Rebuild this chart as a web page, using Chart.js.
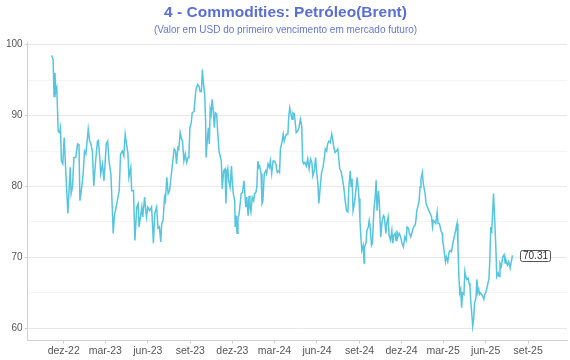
<!doctype html>
<html lang="pt-BR">
<head>
<meta charset="utf-8">
<title>Commodities: Petróleo (Brent)</title>
<style>
  html, body { margin: 0; padding: 0; background: #fff; }
  #grafico { display: block; }
</style>
</head>
<body>
<canvas id="grafico" width="570" height="360"></canvas>

<script src="https://cdn.jsdelivr.net/npm/chart.js"></script>
<script>
// datas das leituras (uma linha por mês)
const datas = [
  '2022-11-05','2022-11-08','2022-11-10','2022-11-12','2022-11-14','2022-11-16','2022-11-19','2022-11-22','2022-11-24','2022-11-26','2022-11-29',
  '2022-12-02','2022-12-05','2022-12-10','2022-12-15','2022-12-17','2022-12-20','2022-12-23','2022-12-27','2022-12-31',
  '2023-01-03','2023-01-05','2023-01-09','2023-01-12','2023-01-15','2023-01-18','2023-01-20','2023-01-23','2023-01-26','2023-01-28',
  '2023-02-01','2023-02-04','2023-02-08','2023-02-12','2023-02-14','2023-02-17','2023-02-19','2023-02-23','2023-02-26','2023-02-28',
  '2023-03-03','2023-03-06','2023-03-09','2023-03-13','2023-03-16','2023-03-18','2023-03-21','2023-03-23','2023-03-27','2023-03-31',
  '2023-04-03','2023-04-07','2023-04-10','2023-04-13','2023-04-16','2023-04-19','2023-04-21','2023-04-25','2023-04-27',
  '2023-05-01','2023-05-04','2023-05-08','2023-05-11','2023-05-13','2023-05-16','2023-05-19','2023-05-21','2023-05-25','2023-05-27','2023-05-29',
  '2023-06-01','2023-06-05','2023-06-09','2023-06-11','2023-06-13','2023-06-16','2023-06-20','2023-06-23','2023-06-26','2023-06-29',
  '2023-07-01','2023-07-04','2023-07-07','2023-07-09','2023-07-12','2023-07-15','2023-07-18','2023-07-22','2023-07-25','2023-07-28','2023-07-31',
  '2023-08-02','2023-08-05','2023-08-07','2023-08-10','2023-08-13','2023-08-15','2023-08-18','2023-08-21','2023-08-24','2023-08-27','2023-08-29','2023-08-31',
  '2023-09-03','2023-09-05','2023-09-09','2023-09-12','2023-09-14','2023-09-17','2023-09-20','2023-09-22','2023-09-25','2023-09-27','2023-09-29',
  '2023-10-02','2023-10-04','2023-10-05','2023-10-08','2023-10-10','2023-10-12','2023-10-14','2023-10-16','2023-10-18','2023-10-20','2023-10-23','2023-10-25','2023-10-28','2023-10-30',
  '2023-11-02','2023-11-04','2023-11-07','2023-11-09','2023-11-12','2023-11-15','2023-11-17','2023-11-19','2023-11-21','2023-11-23','2023-11-26','2023-11-29',
  '2023-12-01','2023-12-03','2023-12-06','2023-12-07','2023-12-09','2023-12-11','2023-12-13','2023-12-15','2023-12-17','2023-12-20','2023-12-23','2023-12-26','2023-12-28','2023-12-30',
  '2024-01-01','2024-01-04','2024-01-06','2024-01-08','2024-01-10','2024-01-13','2024-01-16','2024-01-18','2024-01-21','2024-01-23','2024-01-25','2024-01-27','2024-01-29',
  '2024-02-01','2024-02-03','2024-02-05','2024-02-08','2024-02-11','2024-02-13','2024-02-16','2024-02-19','2024-02-21','2024-02-24','2024-02-27',
  '2024-03-01','2024-03-04','2024-03-07','2024-03-10','2024-03-12','2024-03-14','2024-03-17','2024-03-20','2024-03-22','2024-03-24','2024-03-27','2024-03-30',
  '2024-04-01','2024-04-03','2024-04-05','2024-04-08','2024-04-10','2024-04-13','2024-04-15','2024-04-17','2024-04-20','2024-04-23','2024-04-26','2024-04-29',
  '2024-05-01','2024-05-03','2024-05-06','2024-05-09','2024-05-12','2024-05-15','2024-05-18','2024-05-21','2024-05-23','2024-05-26','2024-05-29','2024-05-31',
  '2024-06-03','2024-06-05','2024-06-08','2024-06-11','2024-06-14','2024-06-17','2024-06-19','2024-06-22','2024-06-24','2024-06-27','2024-06-30',
  '2024-07-03','2024-07-05','2024-07-07','2024-07-10','2024-07-13','2024-07-16','2024-07-18','2024-07-20','2024-07-23','2024-07-26','2024-07-29',
  '2024-08-01','2024-08-04','2024-08-07','2024-08-09','2024-08-12','2024-08-14','2024-08-16','2024-08-18','2024-08-21','2024-08-24','2024-08-27','2024-08-29','2024-08-31',
  '2024-09-02','2024-09-04','2024-09-06','2024-09-09','2024-09-11','2024-09-12','2024-09-15','2024-09-17','2024-09-20','2024-09-22','2024-09-24','2024-09-27','2024-09-29',
  '2024-10-02','2024-10-05','2024-10-07','2024-10-09','2024-10-12','2024-10-14','2024-10-17','2024-10-20','2024-10-23','2024-10-25','2024-10-28','2024-10-30',
  '2024-11-02','2024-11-04','2024-11-07','2024-11-10','2024-11-12','2024-11-14','2024-11-17','2024-11-19','2024-11-21','2024-11-23','2024-11-26','2024-11-29',
  '2024-12-02','2024-12-05','2024-12-08','2024-12-11','2024-12-13','2024-12-16','2024-12-18','2024-12-21','2024-12-24','2024-12-27','2024-12-30',
  '2025-01-01','2025-01-03','2025-01-05','2025-01-08','2025-01-10','2025-01-12','2025-01-15','2025-01-17','2025-01-21','2025-01-23','2025-01-26','2025-01-29',
  '2025-02-01','2025-02-04','2025-02-06','2025-02-08','2025-02-11','2025-02-13','2025-02-16','2025-02-18','2025-02-21','2025-02-24','2025-02-27','2025-02-28',
  '2025-03-03','2025-03-06','2025-03-08','2025-03-11','2025-03-14','2025-03-16','2025-03-19','2025-03-22','2025-03-25','2025-03-28','2025-03-31',
  '2025-04-02','2025-04-04','2025-04-06','2025-04-08','2025-04-10','2025-04-12','2025-04-15','2025-04-17','2025-04-19','2025-04-21','2025-04-24','2025-04-26','2025-04-28','2025-04-30',
  '2025-05-02','2025-05-04','2025-05-06','2025-05-08','2025-05-11','2025-05-13','2025-05-15','2025-05-17','2025-05-19','2025-05-21','2025-05-23','2025-05-26','2025-05-28','2025-05-30',
  '2025-06-01','2025-06-03','2025-06-06','2025-06-08','2025-06-10','2025-06-12','2025-06-14','2025-06-16','2025-06-18','2025-06-20','2025-06-23','2025-06-25','2025-06-28','2025-06-30',
  '2025-07-02','2025-07-05','2025-07-08','2025-07-11','2025-07-13','2025-07-15','2025-07-18','2025-07-21','2025-07-24','2025-07-27','2025-07-29'
];

// preço do Brent (USD), mesma ordem das datas
const brent = [
  98.5, 97.9, 92.7, 96.0, 93.4, 93.9, 87.8, 87.6, 88.3, 83.6, 83.2,
  86.9, 82.7, 76.2, 82.7, 79.0, 80.0, 84.1, 84.1, 86.0,
  85.9, 78.0, 79.9, 81.8, 85.0, 84.6, 86.0, 88.1, 86.4, 86.2,
  85.0, 80.1, 83.6, 86.4, 86.5, 84.1, 81.8, 83.2, 80.8, 82.7,
  86.0, 86.4, 83.6, 81.8, 77.1, 73.4, 76.2, 76.6, 78.0, 79.4,
  84.6, 85.0, 84.3, 87.4, 86.0, 84.6, 81.3, 82.7, 79.4,
  79.4, 72.4, 77.1, 77.6, 74.3, 75.7, 77.1, 75.7, 78.5, 77.1, 75.7,
  77.1, 76.6, 77.1, 74.8, 72.0, 76.2, 77.1, 74.1, 74.3, 72.2,
  74.8, 75.2, 78.5, 78.0, 81.3, 79.0, 79.4, 81.8, 83.6, 85.3, 85.0,
  83.2, 85.5, 85.3, 87.6, 86.7, 86.4, 83.6, 84.6, 83.4, 84.1, 84.6, 88.3,
  89.0, 90.4, 90.6, 93.0, 93.9, 94.4, 94.1, 93.4, 93.4, 96.5, 94.8,
  93.0, 89.2, 84.1, 86.9, 88.3, 86.0, 90.9, 90.2, 92.3, 91.1, 88.3, 90.4, 90.2, 87.8,
  85.0, 85.0, 83.6, 79.7, 82.2, 82.5, 77.6, 81.8, 82.5, 80.8, 79.9, 82.9,
  80.4, 79.0, 78.0, 74.3, 75.9, 73.4, 75.7, 75.9, 77.1, 79.0, 79.2, 80.8, 79.0, 77.1,
  78.5, 75.9, 78.7, 77.1, 76.4, 78.5, 78.0, 79.0, 79.2, 80.1, 83.6, 82.7, 82.9,
  81.8, 77.6, 78.0, 81.8, 82.2, 81.8, 83.2, 82.7, 83.6, 81.8, 83.6,
  83.6, 83.2, 82.0, 82.2, 82.0, 85.3, 86.2, 87.4, 86.4, 86.9, 87.4, 87.4,
  89.9, 91.1, 90.4, 89.5, 90.4, 90.2, 89.0, 87.6, 87.8, 88.3, 89.5, 88.5,
  83.6, 83.2, 83.4, 82.9, 83.9, 82.5, 83.9, 83.4, 81.5, 82.2, 84.1, 82.2,
  80.4, 77.6, 79.9, 82.0, 82.7, 84.1, 85.3, 85.0, 86.0, 86.4, 86.2,
  87.4, 86.7, 85.7, 84.8, 85.0, 85.3, 84.1, 82.5, 82.2, 81.1, 79.9,
  78.0, 76.6, 76.4, 79.9, 82.2, 79.9, 81.1, 76.6, 77.6, 79.4, 81.3, 79.9, 78.3,
  75.2, 72.9, 71.0, 71.7, 69.2, 71.5, 72.0, 73.8, 74.3, 75.2, 74.3, 71.7, 72.0,
  76.6, 78.5, 80.9, 76.6, 79.4, 77.6, 72.9, 75.2, 75.9, 75.7, 73.4, 74.8,
  75.7, 73.1, 72.4, 73.8, 72.0, 73.1, 73.4, 72.4, 73.8, 72.9, 73.4, 72.9,
  72.0, 71.5, 72.9, 72.4, 74.3, 74.1, 73.4, 72.9, 73.6, 74.3, 74.5,
  75.2, 76.6, 77.1, 78.0, 79.9, 81.1, 82.0, 80.4, 79.0, 77.6, 77.1, 76.6,
  76.2, 75.7, 74.3, 75.2, 75.0, 74.8, 76.4, 74.8, 74.8, 73.8, 73.4, 72.4,
  71.0, 69.4, 70.1, 69.4, 70.8, 71.0, 70.8, 72.0, 72.9, 73.8, 74.8,
  71.7, 67.3, 65.0, 65.5, 62.9, 65.0, 64.8, 68.0, 67.3, 66.9, 67.1, 66.4, 65.9, 63.6,
  62.0, 60.3, 61.3, 63.6, 64.3, 66.9, 65.0, 65.5, 64.8, 65.0, 64.8, 64.5, 64.1, 64.8,
  65.0, 65.5, 66.4, 66.9, 69.6, 74.3, 73.4, 76.2, 79.0, 76.2, 71.5, 67.3, 67.8, 67.3,
  69.2, 68.7, 70.1, 70.4, 69.2, 69.6, 68.9, 69.4, 68.5, 69.6, 70.31
];

// eixo X: rótulos trimestrais
const rotulosX = ['dez-22','mar-23','jun-23','set-23','dez-23','mar-24','jun-24','set-24','dez-24','mar-25','jun-25','set-25'];
const datasRotulos = ['2022-12-01','2023-03-01','2023-06-01','2023-09-01','2023-12-01','2024-03-01',
                      '2024-06-01','2024-09-01','2024-12-01','2025-03-01','2025-06-01','2025-09-01'];
// eixo Y
const ticksY = [60, 65, 70, 75, 80, 85, 90, 95, 100];

const FONTE = '"Liberation Sans", Arial, Helvetica, sans-serif';
const dia = iso => Date.parse(iso + 'T00:00:00Z') / 86400000;

const pontos = datas.map((d, i) => ({ x: dia(d), y: brent[i] }));
const posRotulos = datasRotulos.map(dia);

// caixinha com o último valor
const rotuloFinal = {
  id: 'rotuloFinal',
  afterDatasetsDraw(chart) {
    const meta = chart.getDatasetMeta(0);
    const pt = meta.data[meta.data.length - 1];
    const ctx = chart.ctx;
    const txt = brent[brent.length - 1].toFixed(2);
    ctx.save();
    ctx.font = '10px ' + FONTE;
    const w = ctx.measureText(txt).width + 5;
    const h = 11;
    const x = Math.round(pt.x + 8) + 0.5;
    const y = Math.round(pt.y - h / 2) + 0.5;
    ctx.beginPath();
    ctx.roundRect(x, y, w, h, 2);
    ctx.fillStyle = '#fff';
    ctx.fill();
    ctx.strokeStyle = '#555';
    ctx.lineWidth = 1;
    ctx.stroke();
    ctx.fillStyle = '#333';
    ctx.textBaseline = 'middle';
    ctx.fillText(txt, x + 2.5, y + h / 2 + 0.5);
    ctx.restore();
  }
};

new Chart(document.getElementById('grafico'), {
  type: 'line',
  data: {
    datasets: [{
      data: pontos,
      borderColor: '#56c5df',
      borderWidth: 1.5,
      pointRadius: 0,
      tension: 0,
      fill: false
    }]
  },
  options: {
    responsive: false,
    animation: false,
    layout: { padding: { left: 4, right: 3, top: 0, bottom: 2 } },
    plugins: {
      legend: { display: false },
      tooltip: { enabled: false },
      title: {
        display: true,
        text: '4 - Commodities: Petróleo(Brent)',
        color: '#5a6fd6',
        font: { family: FONTE, size: 15.5, weight: 'bold' },
        padding: { top: 3, bottom: 2 }
      },
      subtitle: {
        display: true,
        text: '(Valor em USD do primeiro vencimento em mercado futuro)',
        color: '#6478d8',
        font: { family: FONTE, size: 10 },
        padding: { top: 1, bottom: 6 }
      }
    },
    scales: {
      x: {
        type: 'linear',
        min: dia('2022-09-14'),
        max: dia('2025-11-24'),
        afterBuildTicks: s => { s.ticks = posRotulos.map(v => ({ value: v })); },
        ticks: {
          color: '#555',
          font: { family: FONTE, size: 10.5 },
          padding: 1,
          maxRotation: 0,
          autoSkip: false,
          callback: v => rotulosX[posRotulos.indexOf(v)]
        },
        grid: { drawOnChartArea: false, tickLength: 3, color: '#ccc' },
        border: { color: '#d0d0d0' }
      },
      y: {
        min: 58.3,
        max: 100.3,
        afterBuildTicks: s => { s.ticks = ticksY.map(v => ({ value: v })); },
        ticks: {
          color: '#555',
          font: { family: FONTE, size: 10 },
          padding: 2,
          callback: v => (v % 10 === 0 ? v : '')
        },
        grid: {
          tickLength: 3,
          color: c => (c.tick && c.tick.value % 10 === 0 ? '#e8e8e8' : '#f4f4f4'),
          tickColor: c => (c.tick && c.tick.value % 10 === 0 ? '#ccc' : 'rgba(0,0,0,0)')
        },
        border: { color: '#d0d0d0' }
      }
    }
  },
  plugins: [rotuloFinal]
});
</script>
</body>
</html>
